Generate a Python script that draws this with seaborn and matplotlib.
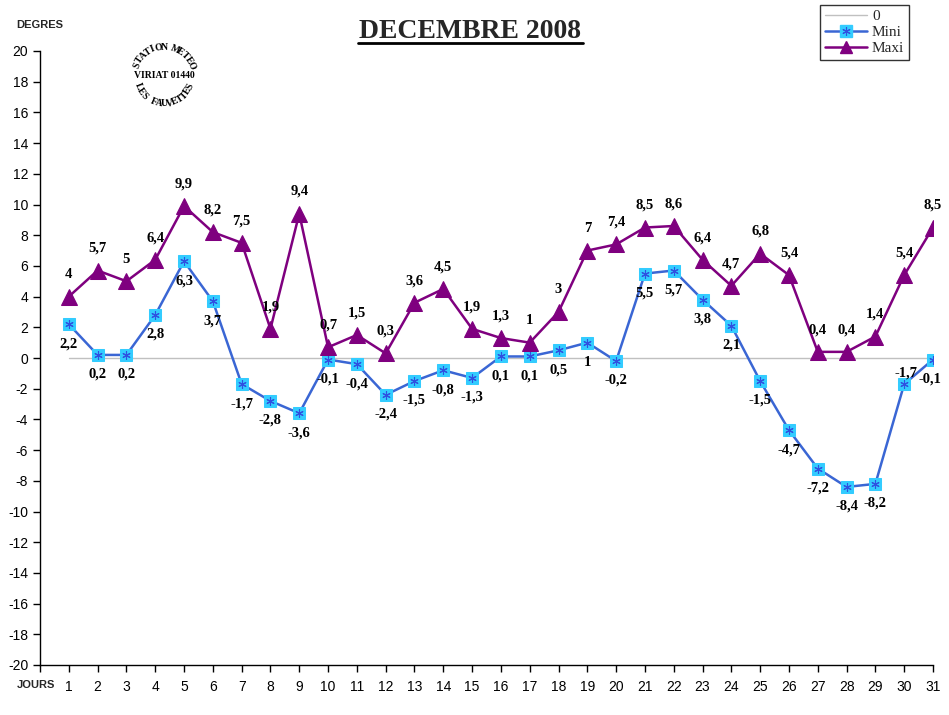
import numpy as np
import pandas as pd
import matplotlib
matplotlib.use('Agg')
import matplotlib.pyplot as plt
import seaborn as sns
from matplotlib.lines import Line2D
from matplotlib.legend_handler import HandlerTuple

# data
jours = list(range(1, 32))
mini = [2.2, 0.2, 0.2, 2.8, 6.3, 3.7, -1.7, -2.8, -3.6, -0.1, -0.4, -2.4, -1.5, -0.8, -1.3,
        0.1, 0.1, 0.5, 1, -0.2, 5.5, 5.7, 3.8, 2.1, -1.5, -4.7, -7.2, -8.4, -8.2, -1.7, -0.1]
maxi = [4, 5.7, 5, 6.4, 9.9, 8.2, 7.5, 1.9, 9.4, 0.7, 1.5, 0.3, 3.6, 4.5, 1.9,
        1.3, 1, 3, 7, 7.4, 8.5, 8.6, 6.4, 4.7, 6.8, 5.4, 0.4, 0.4, 1.4, 5.4, 8.5]
zero = [0] * len(jours)

df = pd.DataFrame({'Jour': jours, 'Mini': mini, 'Maxi': maxi, 'Zero': zero})

sns.set_style('ticks')
plt.rcParams['font.family'] = ['Liberation Sans', 'DejaVu Sans']
plt.rcParams['axes.unicode_minus'] = False

W, H = 949, 715
fig = plt.figure(figsize=(W / 100, H / 100), dpi=100)
ax = fig.add_axes([40 / W, 1 - 665 / H, 893 / W, 614 / H])

blue_line = '#3A66D4'
cyan = '#33CCFF'
star_col = '#3050E0'
purple = '#7F007F'

# zero line
sns.lineplot(data=df, x='Jour', y='Zero', ax=ax, color='#C0C0C0', linewidth=1)
# Mini
sns.lineplot(data=df, x='Jour', y='Mini', ax=ax, color=blue_line, linewidth=1.8,
             marker='s', markersize=8, markerfacecolor=cyan, markeredgecolor=cyan)
ax.plot(df['Jour'], df['Mini'], linestyle='', marker=(6, 2, 0), markersize=6,
        markeredgecolor=star_col, markeredgewidth=0.8)
# Maxi
sns.lineplot(data=df, x='Jour', y='Maxi', ax=ax, color=purple, linewidth=1.8,
             marker='^', markersize=11, markerfacecolor=purple, markeredgecolor=purple)

def fmt(v):
    return ('%g' % v).replace('.', ',')

lab_font = dict(family='Liberation Serif', fontsize=10.5, fontweight='bold', color='black')
for x, v in zip(jours, maxi):
    ax.annotate(fmt(v), (x, v), xytext=(0, 16), textcoords='offset points',
                ha='center', va='center', **lab_font)
mini_off = {30: (1, 8), 31: (-2, -14)}
for x, v in zip(jours, mini):
    ax.annotate(fmt(v), (x, v), xytext=mini_off.get(x, (0, -14)), textcoords='offset points',
                ha='center', va='center', **lab_font)

ax.set_xlim(0, 31)
ax.set_ylim(-20, 20)
ax.set_xticks(range(0, 32))
ax.set_xticklabels([''] + [str(j) for j in jours])
ax.set_yticks(range(-20, 21, 2))
ax.tick_params(axis='both', labelsize=10, direction='out', length=5, width=1, colors='black')
ax.tick_params(axis='x', pad=6)
ax.set_xlabel('')
ax.set_ylabel('')
for s in ['top', 'right']:
    ax.spines[s].set_visible(False)
for s in ['left', 'bottom']:
    ax.spines[s].set_color('black')
    ax.spines[s].set_linewidth(1)

# title
fig.text(470 / W, 1 - 31 / H, 'DECEMBRE 2008', ha='center', va='center',
         family='Liberation Serif', fontsize=20, fontweight='bold')
fig.add_artist(Line2D([358 / W, 583 / W], [1 - 43 / H, 1 - 43 / H], color='black', linewidth=2))

fig.text(16 / W, 1 - 25 / H, 'DEGRES', ha='left', va='center', fontsize=8, fontweight='bold')
fig.text(17 / W, 1 - 685 / H, 'JOURS', ha='left', va='center', fontsize=8, fontweight='bold')

# legend
h_zero = Line2D([], [], color='#C0C0C0', linewidth=1)
h_mini = (Line2D([], [], color=blue_line, linewidth=1.8, marker='s', markersize=8,
                 markerfacecolor=cyan, markeredgecolor=cyan),
          Line2D([], [], linestyle='', marker=(6, 2, 0), markersize=6,
                 markeredgecolor=star_col, markeredgewidth=0.8))
h_maxi = Line2D([], [], color=purple, linewidth=1.8, marker='^', markersize=9,
                markerfacecolor=purple, markeredgecolor=purple)
leg = fig.legend([h_zero, h_mini, h_maxi], ['0', 'Mini', 'Maxi'], loc='upper left',
                 bbox_to_anchor=(820 / W, 1 - 5 / H), frameon=True, fancybox=False,
                 edgecolor='black', prop={'family': 'Liberation Serif', 'size': 11},
                 handlelength=2.8, handletextpad=0.3, labelspacing=0.15,
                 borderpad=0.3, borderaxespad=0,
                 handler_map={tuple: HandlerTuple(ndivide=1, pad=0)})
leg.get_frame().set_linewidth(1)

# stamp
cx, cy = 164, 76
sax = fig.add_axes([(cx - 40) / W, 1 - (cy + 40) / H, 80 / W, 80 / H])
sax.set_xlim(-40, 40)
sax.set_ylim(-40, 40)
sax.axis('off')
stamp_font = dict(family='Liberation Serif', fontsize=7, fontweight='bold', color='black')
top_txt = 'STATION METEO'
for i, ch in enumerate(top_txt):
    th = np.deg2rad(158 - i * 136 / (len(top_txt) - 1))
    sax.text(29 * np.cos(th), 29 * np.sin(th), ch, rotation=np.rad2deg(th) - 90,
             ha='center', va='center', rotation_mode='anchor', **stamp_font)
bot_txt = 'LES FAUVETTES'
for i, ch in enumerate(bot_txt):
    th = np.deg2rad(202 + i * 136 / (len(bot_txt) - 1))
    sax.text(28 * np.cos(th), 28 * np.sin(th), ch, rotation=np.rad2deg(th) + 90,
             ha='center', va='center', rotation_mode='anchor', **stamp_font)
sax.text(0, 0, 'VIRIAT 01440', ha='center', va='center', **stamp_font)

fig.savefig('out.png', dpi=100)
